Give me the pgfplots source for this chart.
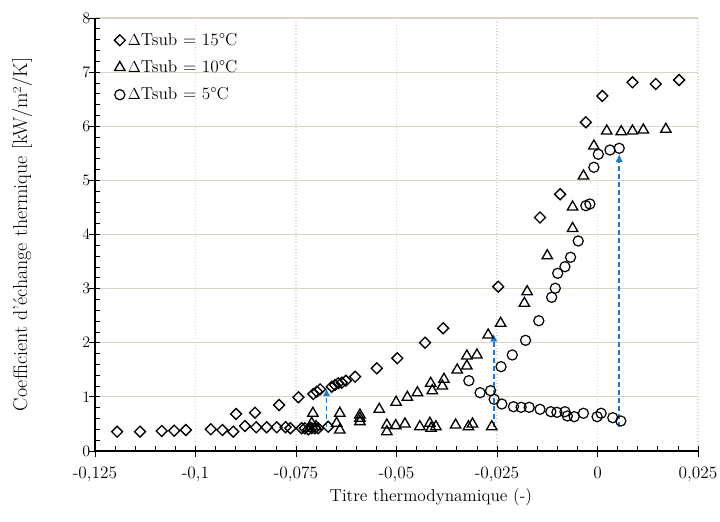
\documentclass[border=0pt]{standalone}
\usepackage{pgfplots}
\pgfplotsset{compat=1.18}
\usetikzlibrary{arrows.meta}
\definecolor{gridc}{RGB}{217,212,198}
\definecolor{arrc}{RGB}{30,122,205}

\begin{document}
\begin{tikzpicture}[font=\fontsize{13}{15.5}\selectfont]
\begin{axis}[
  scale only axis, width=452.25pt, height=324.75pt,
  xmin=-0.125, xmax=0.025, ymin=0, ymax=8,
  axis lines=left, axis line style={-, black, line width=0.8pt},
  xtick={-0.125,-0.1,-0.075,-0.05,-0.025,0,0.025},
  xticklabels={{-0,125},{-0,1},{-0,075},{-0,05},{-0,025},{0},{0,025}},
  xticklabel style={yshift=-8.5pt},
  minor x tick num=4,
  ytick={0,1,2,3,4,5,6,7,8}, minor y tick num=4,
  grid=major,
  x grid style={gridc, dotted, line width=0.9pt},
  y grid style={gridc, line width=0.8pt},
  tick align=inside, major tick length=4pt, minor tick length=4pt,
  tick style={black, line width=0.6pt},
  extra x ticks={-0.125,-0.1,-0.075,-0.05,-0.025,0,0.025},
  extra x tick labels={},
  extra x tick style={grid=none, tick align=outside, major tick length=4.5pt},
  extra y ticks={0,1,2,3,4,5,6,7,8},
  extra y tick labels={},
  extra y tick style={grid=none, tick align=outside, major tick length=4.5pt},
  xlabel={Titre thermodynamique (-)},
  ylabel={Coefficient d'échange thermique [kW/m²/K]},
  xlabel style={at={(axis description cs:0.557,-0.106)}, anchor=center},
  ylabel style={at={(axis description cs:-0.121,0.5)}, anchor=center, font=\fontsize{15}{17.5}\selectfont},
  legend style={at={(axis description cs:0.025,0.978)}, anchor=north west,
    draw=none, fill=none, row sep=5.8pt},
  legend cell align=left,
]
\addplot[only marks, mark=square, mark size=2.9pt, mark options={rotate=45, line width=1pt, black}] coordinates {
(-0.1195,0.357) (-0.1138,0.357) (-0.1084,0.370) (-0.1053,0.375) (-0.1024,0.388)
(-0.0962,0.401) (-0.0933,0.388) (-0.0906,0.357) (-0.0899,0.684) (-0.0877,0.462)
(-0.0852,0.708) (-0.0849,0.438) (-0.0823,0.438) (-0.0798,0.438) (-0.0792,0.850)
(-0.0776,0.44) (-0.0764,0.42) (-0.0744,0.992) (-0.0736,0.42) (-0.0728,0.42)
(-0.0719,0.40) (-0.0711,0.42) (-0.0707,1.053) (-0.0703,0.42) (-0.0698,1.096)
(-0.0695,0.42) (-0.0690,1.14) (-0.0670,0.449) (-0.0661,1.188) (-0.0653,1.219)
(-0.0645,1.251) (-0.0636,1.262) (-0.0626,1.299) (-0.0603,1.373) (-0.0549,1.528)
(-0.0498,1.713) (-0.0429,2.001) (-0.0384,2.267) (-0.0247,3.036) (-0.0143,4.314)
(-0.0093,4.743) (-0.0029,6.073) (0.0012,6.559) (0.0087,6.812) (0.0145,6.781)
(0.0203,6.854)
};
\addlegendentry{$\Delta$Tsub = 15°C}
\addplot[only marks, mark=triangle, mark size=4.5pt, mark options={line width=1pt, black}] coordinates {
(-0.0715,0.42) (-0.0700,0.45) (-0.0708,0.697) (-0.0711,0.512)
(-0.0649,0.512) (-0.0641,0.697) (-0.0641,0.388) (-0.0591,0.665) (-0.0591,0.604)
(-0.0591,0.542) (-0.0543,0.770) (-0.0524,0.480) (-0.0524,0.357) (-0.0502,0.468)
(-0.0501,0.900) (-0.0479,0.499) (-0.0473,0.992) (-0.0448,1.077) (-0.0442,0.449)
(-0.0417,0.512) (-0.0414,0.419) (-0.0402,0.449) (-0.0415,1.251) (-0.0411,1.114)
(-0.0386,1.201) (-0.0382,1.325) (-0.0353,0.480) (-0.0349,1.497) (-0.0325,1.570)
(-0.0325,1.755) (-0.0321,0.449) (-0.0311,0.499) (-0.0300,1.774) (-0.0272,2.143)
(-0.0263,0.449) (-0.0241,2.359) (-0.0182,2.729) (-0.0175,2.943) (-0.0125,3.608)
(-0.0062,4.111) (-0.0062,4.508) (-0.0035,5.081) (-0.0009,5.635) (0.0023,5.912)
(0.0059,5.899) (0.0087,5.912) (0.0114,5.931) (0.0170,5.944)
};
\addlegendentry{$\Delta$Tsub = 10°C}
\addplot[only marks, mark=o, mark size=3.8pt, mark options={line width=0.9pt, black}] coordinates {
(-0.0320,1.299) (-0.0292,1.077) (-0.0266,1.114) (-0.0257,0.955) (-0.0238,0.868)
(-0.0209,0.818) (-0.0190,0.807) (-0.0170,0.807) (-0.0143,0.770) (-0.0116,0.726)
(-0.0101,0.715) (-0.0081,0.726) (-0.0075,0.647) (-0.0058,0.634) (-0.0035,0.697)
(-0.0001,0.634) (0.0009,0.697) (0.0038,0.615) (0.0058,0.554)
(-0.0240,1.558) (-0.0212,1.774) (-0.0179,2.045) (-0.0146,2.407) (-0.0114,2.840)
(-0.0105,3.006) (-0.0099,3.283) (-0.0081,3.405) (-0.0067,3.579) (-0.0048,3.880)
(-0.0029,4.532) (-0.0019,4.564) (-0.0009,5.242) (0.0002,5.482) (0.0031,5.561)
(0.0054,5.593)
};
\addlegendentry{$\Delta$Tsub = 5°C}
\addplot[forget plot, arrc, line width=1.1pt, dash pattern=on 3.5pt off 2.5pt, -{Latex[length=6pt,width=5.5pt]}] coordinates {(-0.0674,0.45) (-0.0674,1.16)};
\addplot[forget plot, arrc, line width=1.1pt, dash pattern=on 3.5pt off 2.5pt, -{Latex[length=6pt,width=5.5pt]}] coordinates {(-0.0258,0.45) (-0.0258,2.17)};
\addplot[forget plot, arrc, line width=1.1pt, dash pattern=on 3.5pt off 2.5pt, -{Latex[length=6pt,width=5.5pt]}] coordinates {(0.0054,0.45) (0.0054,5.49)};
\coordinate (ll) at (rel axis cs:0,0);
\coordinate (ur) at (rel axis cs:1,1);
\end{axis}
\pgfresetboundingbox
\path ([shift={(-71.25pt,-53.25pt)}]ll) rectangle ([shift={(16.5pt,13.5pt)}]ur);
\end{tikzpicture}
\end{document}
